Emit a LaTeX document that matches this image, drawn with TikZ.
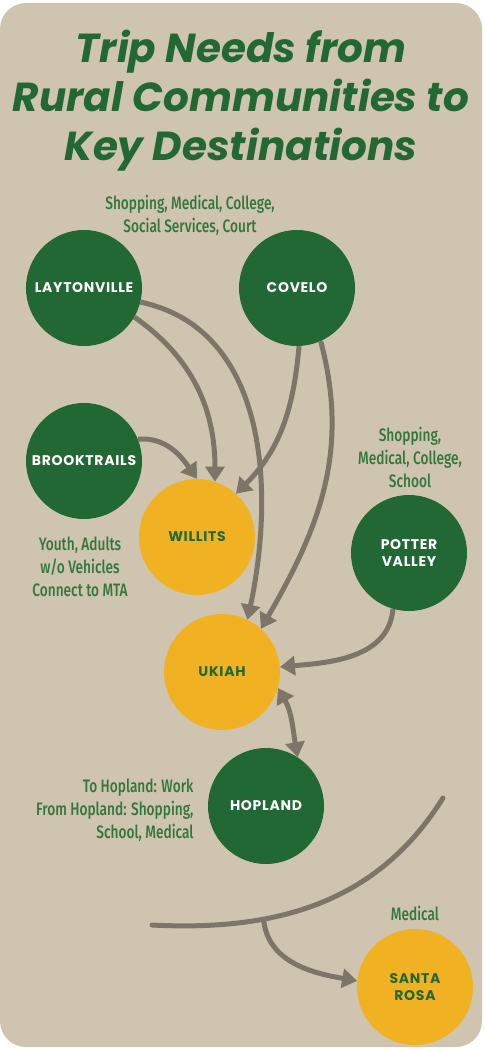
\documentclass[tikz,border=0pt]{standalone}
\usepackage{fontspec}
\setmainfont{Poppins}
\newfontfamily\notefont[FakeStretch=0.76]{Fira Sans Medium}
\usetikzlibrary{arrows.meta}
\definecolor{tan}{RGB}{207,196,176}
\definecolor{pine}{RGB}{33,104,52}
\definecolor{gold}{RGB}{240,178,35}
\definecolor{mud}{RGB}{125,117,103}
\definecolor{leaf}{RGB}{52,118,64}
\begin{document}
\begin{tikzpicture}[x=1pt,y=1pt,
    rural/.style={circle,fill=pine,minimum size=116pt,inner sep=0pt,text=white,
      font=\bfseries\fontsize{14}{17}\selectfont\addfontfeature{LetterSpace=5},align=center},
    hub/.style={rural,fill=gold,text=pine},
    note/.style={text=leaf,font=\notefont\fontsize{18}{23}\selectfont,align=center},
    trip/.style={draw=mud,line width=5pt,-{Triangle[length=15pt,width=19pt]}}]
      \useasboundingbox (0,0) rectangle (483,-1049);
      \fill[tan,rounded corners=26pt] (0,-3) rectangle (482,-1047);
      \node[text=pine,font=\bfseries\itshape\fontsize{40.5}{49}\selectfont,align=center]
        (title) at (241,-101) {Trip Needs from\\Rural Communities to\\Key Destinations};
      \node[rural] (lay) at (84,-288) {LAYTONVILLE};
      \node[rural] (cov) at (297,-288) {COVELO};
      \node[rural] (bro) at (84,-461) {BROOKTRAILS};
      \node[hub] (wil) at (197,-537) {WILLITS};
      \node[rural] (pot) at (409,-553) {POTTER\\VALLEY};
      \node[hub] (uki) at (222,-672) {UKIAH};
      \node[rural] (hop) at (266,-806) {HOPLAND};
      \node[hub] (sro) at (415,-987) {SANTA\\ROSA};
      \node[note] (n1) at (190,-215) {Shopping, Medical, College,\\Social Services, Court};
      \node[note] (n2) at (410,-457) {Shopping,\\Medical, College,\\School};
      \node[note] (n3) at (80,-567) {Youth, Adults\\w/o Vehicles\\Connect to MTA};
      \node[note,align=right,anchor=east] (n4) at (197,-810)
        {To Hopland: Work\\From Hopland: Shopping,\\School, Medical};
      \node[note] (n5) at (415,-913) {Medical};
      \coordinate (arcA) at (443,-798);
      \coordinate (arcB) at (152,-925);
      \begin{scope}[trip]
        \draw (lay.-30) to[out=-35,in=90] (wil.72);
        \draw (lay.-14) to[out=-12,in=78] (uki.64);
        \draw (cov.-88) to[out=-95,in=45] (wil.48);
        \draw (cov.-66) to[out=-75,in=60] (uki.48);
        \draw (bro.22) to[out=5,in=125] (wil.north);
        \draw (pot.-106) to[out=-95,in=5] (uki.5);
        \draw[{Triangle[length=15pt,width=19pt]}-{Triangle[length=15pt,width=19pt]}]
          (uki.-16) to[out=-60,in=100] (hop.57);
        \draw[-,line cap=round] (arcA) to[out=-122,in=-3] coordinate[pos=0.68] (fork) (arcB);
        \draw (fork) to[out=-85,in=170] (sro.174);
      \end{scope}
    \end{tikzpicture}
\end{document}
